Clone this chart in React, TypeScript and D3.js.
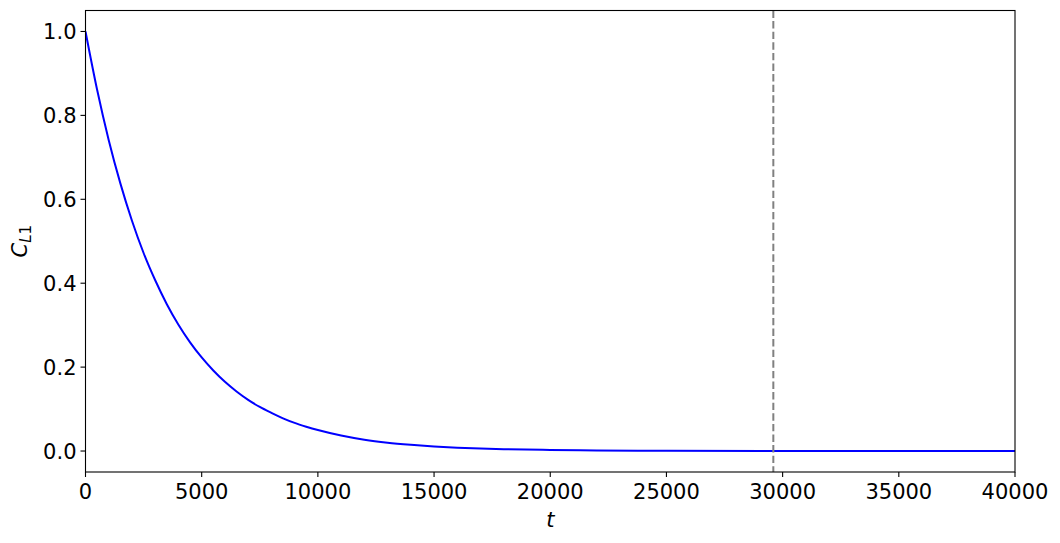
import React from "react";
import * as d3 from "d3";

const tValues = [0, 500, 1000, 1500, 2000, 2500, 3000, 3500, 4000, 4500, 5000, 5500, 6000, 6500, 7000, 7500, 8000, 8500, 9000, 9500, 10000, 11000, 12000, 13000, 14000, 15000, 16000, 17000, 18000, 20000, 22000, 25000, 30000, 35000, 40000];
const cValues = [1.0, 0.861, 0.741, 0.638, 0.549, 0.472, 0.407, 0.35, 0.301, 0.259, 0.223, 0.192, 0.165, 0.142, 0.122, 0.105, 0.091, 0.078, 0.067, 0.058, 0.05, 0.037, 0.027, 0.02, 0.015, 0.011, 0.008, 0.006, 0.0045, 0.0025, 0.0014, 0.0006, 0.0001, 0.0, 0.0];
const xTicks = [0, 5000, 10000, 15000, 20000, 25000, 30000, 35000, 40000];
const yTicks = [0.0, 0.2, 0.4, 0.6, 0.8, 1.0];
const markerT = 29600;

export default function App() {
  const W = 1060, H = 543;
  const L = 85.5, R = 1015, T = 10.5, B = 472;
  const x = d3.scaleLinear().domain([0, 40000]).range([L, R]);
  const y = d3.scaleLinear().domain([-0.05, 1.05]).range([B, T]);
  const pts = tValues.map((t, i) => [t, cValues[i]] as [number, number]);
  const line = d3.line<[number, number]>().x(d => x(d[0])).y(d => y(d[1])).curve(d3.curveMonotoneX);
  const font = "DejaVu Sans, sans-serif";
  const fs = 21;
  return (
    <svg width={W} height={H} style={{ position: "absolute", left: 0, top: 0 }} fontFamily={font}>
      <rect x={0} y={0} width={W} height={H} fill="white" />
      <defs>
        <clipPath id="clip"><rect x={L} y={T} width={R - L} height={B - T} /></clipPath>
      </defs>
      <g clipPath="url(#clip)">
        <path d={line(pts) || ""} fill="none" stroke="blue" strokeWidth={2} />
        <line x1={x(markerT)} x2={x(markerT)} y1={T} y2={B} stroke="gray" strokeWidth={2} strokeDasharray="7.4,3.2" />
      </g>
      <rect x={L} y={T} width={R - L} height={B - T} fill="none" stroke="black" strokeWidth={1.1} />
      {xTicks.map(t => (
        <g key={t}>
          <line x1={x(t)} x2={x(t)} y1={B} y2={B + 5} stroke="black" strokeWidth={1.1} />
          <text x={x(t)} y={B + 27} textAnchor="middle" fontSize={fs} fill="black">{t}</text>
        </g>
      ))}
      {yTicks.map(v => (
        <g key={v}>
          <line x1={L - 5} x2={L} y1={y(v)} y2={y(v)} stroke="black" strokeWidth={1.1} />
          <text x={L - 9} y={y(v) + 7.5} textAnchor="end" fontSize={fs} fill="black">{v.toFixed(1)}</text>
        </g>
      ))}
      <text x={(L + R) / 2} y={527} textAnchor="middle" fontSize={fs} fontStyle="italic" fill="black">t</text>
      <text transform={`translate(27, ${(T + B) / 2}) rotate(-90)`} textAnchor="middle" fontSize={fs} fill="black">
        <tspan fontStyle="italic">C</tspan><tspan fontStyle="italic" fontSize={15} dy={4}>L</tspan><tspan fontSize={15}>1</tspan>
      </text>
    </svg>
  );
}
